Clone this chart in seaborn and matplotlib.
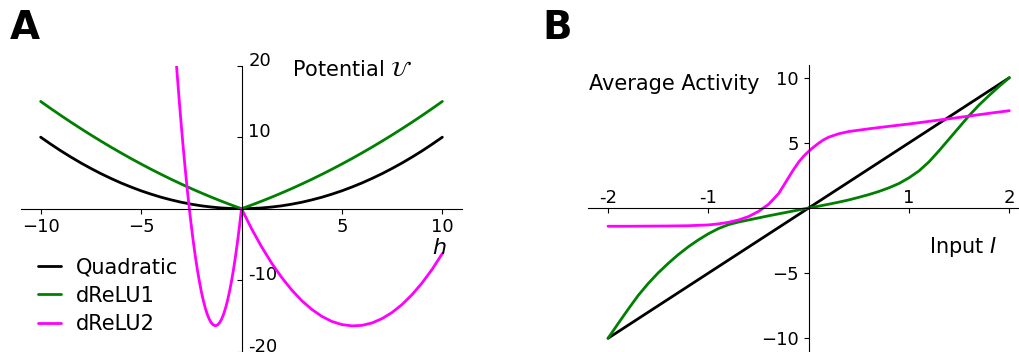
import matplotlib
matplotlib.use("Agg")
import matplotlib.pyplot as plt
import seaborn as sns
import pandas as pd

# ---- panel A : potentials U(h) ----
h_grid = [-10, -9.5, -9, -8.5, -8, -7.5, -7, -6.5, -6, -5.5, -5, -4.5, -4, -3.5, -3, -2.5, -2, -1.5, -1, -0.5,
          0, 0.5, 1, 1.5, 2, 2.5, 3, 3.5, 4, 4.5, 5, 5.5, 6, 6.5, 7, 7.5, 8, 8.5, 9, 9.5, 10]
quadratic = [10, 9.03, 8.1, 7.23, 6.4, 5.63, 4.9, 4.23, 3.6, 3.03, 2.5, 2.03, 1.6, 1.23, 0.9, 0.63, 0.4, 0.23, 0.1, 0.03,
             0, 0.03, 0.1, 0.23, 0.4, 0.63, 0.9, 1.23, 1.6, 2.03, 2.5, 3.03, 3.6, 4.23, 4.9, 5.63, 6.4, 7.23, 8.1, 9.03, 10]
drelu1 = [15, 14.01, 13.05, 12.11, 11.2, 10.31, 9.45, 8.61, 7.8, 7.01, 6.25, 5.51, 4.8, 4.11, 3.45, 2.81, 2.2, 1.61, 1.05, 0.51,
          0, 0.51, 1.05, 1.61, 2.2, 2.81, 3.45, 4.11, 4.8, 5.51, 6.25, 7.01, 7.8, 8.61, 9.45, 10.31, 11.2, 12.11, 13.05, 14.01, 15]

drelu2_h = [-3.25, -3.2, -3.1, -3.0, -2.9, -2.8, -2.7, -2.6, -2.5, -2.4, -2.3, -2.2, -2.1, -2.0,
            -1.9, -1.8, -1.7, -1.6, -1.5, -1.4, -1.3, -1.2, -1.1, -1.0, -0.9, -0.8, -0.7, -0.6,
            -0.5, -0.4, -0.3, -0.2, -0.1, 0.0,
            0.5, 1.0, 1.5, 2.0, 2.5, 3.0, 3.5, 4.0, 4.5, 5.0, 5.5, 6.0, 6.5, 7.0, 7.5, 8.0, 8.5,
            9.0, 9.5, 10.0]
drelu2_u = [20.56, 18.69, 15.10, 11.70, 8.50, 5.49, 2.67, 0.05, -2.37, -4.61, -6.65, -8.49, -10.14, -11.60,
            -12.86, -13.93, -14.81, -15.49, -15.97, -16.27, -16.37, -16.27, -15.98, -15.50, -14.82, -13.95, -12.89, -11.63,
            -10.17, -8.53, -6.69, -4.65, -2.42, 0.0,
            -2.80, -5.33, -7.61, -9.62, -11.37, -12.86, -14.09, -15.06, -15.77, -16.21, -16.39, -16.32, -15.98, -15.37, -14.51, -13.39, -12.00,
            -10.35, -8.45, -6.27]

# ---- panel B : average activity vs input ----
lin_I = [-2, 2]
lin_act = [-10, 10]

green_I = [-2.0, -1.9, -1.8, -1.7, -1.6, -1.5, -1.4, -1.3, -1.2, -1.1, -1.0, -0.9, -0.8, -0.7, -0.6, -0.5,
           -0.4, -0.3, -0.2, -0.1, 0.0, 0.1, 0.2, 0.3, 0.4, 0.5, 0.6, 0.7, 0.8, 0.9, 1.0, 1.1, 1.2, 1.3,
           1.4, 1.5, 1.6, 1.7, 1.8, 1.9, 2.0]
green_act = [-10.0, -8.88, -7.78, -6.72, -5.80, -4.98, -4.25, -3.58, -2.98, -2.45, -1.98, -1.58, -1.28, -1.08, -0.92, -0.76,
             -0.60, -0.45, -0.30, -0.15, 0.0, 0.14, 0.29, 0.45, 0.62, 0.82, 1.03, 1.27, 1.55, 1.88, 2.32, 2.85, 3.55, 4.40,
             5.30, 6.20, 7.10, 7.92, 8.65, 9.35, 10.0]

mag_I = [-2.0, -1.8, -1.6, -1.4, -1.2, -1.0, -0.9, -0.8, -0.7, -0.6, -0.5, -0.4, -0.3, -0.25, -0.2, -0.15,
         -0.1, -0.05, 0.0, 0.05, 0.1, 0.15, 0.2, 0.3, 0.4, 0.6, 0.8, 1.0, 1.2, 1.4, 1.6, 1.8, 2.0]
mag_act = [-1.40, -1.40, -1.39, -1.38, -1.36, -1.30, -1.22, -1.10, -0.92, -0.66, -0.26, 0.28, 1.10, 1.72, 2.35, 2.96,
           3.52, 3.98, 4.35, 4.68, 4.98, 5.24, 5.44, 5.70, 5.87, 6.08, 6.27, 6.45, 6.65, 6.85, 7.06, 7.27, 7.47]

sns.set_style("ticks")
plt.rcParams["font.family"] = ["DejaVu Sans"]
plt.rcParams["mathtext.fontset"] = "dejavusans"
plt.rcParams["text.color"] = "black"
plt.rcParams["xtick.color"] = "black"
plt.rcParams["ytick.color"] = "black"
plt.rcParams["axes.edgecolor"] = "black"

fig = plt.figure(figsize=(10.19, 3.52), dpi=100)
axA = fig.add_axes([0.0202, 0.0009, 0.4336, 0.8125])
axB = fig.add_axes([0.5770, 0.0020, 0.4332, 0.8142])

lw = 2.0
dfA = pd.DataFrame({"h": h_grid, "Quadratic": quadratic, "dReLU1": drelu1})
sns.lineplot(data=dfA, x="h", y="Quadratic", color="black", lw=lw, label="Quadratic", ax=axA)
sns.lineplot(data=dfA, x="h", y="dReLU1", color="green", lw=lw, label="dReLU1", ax=axA)
sns.lineplot(x=drelu2_h, y=drelu2_u, color="#ff00ff", lw=lw, label="dReLU2", ax=axA)

axA.set_xlim(-11, 11)
axA.set_ylim(-20, 20)
for s in ["top", "right"]:
    axA.spines[s].set_visible(False)
axA.spines["left"].set_position(("data", 0))
axA.spines["bottom"].set_position(("data", 0))
axA.set_xticks([-10, -5, 5, 10])
axA.set_xticklabels(["\u221210", "\u22125", "5", "10"], fontsize=13)
axA.set_yticks([20, 10, -10, -20])
axA.set_yticklabels(["20", "10", "-10", "-20"], fontsize=13)
axA.tick_params(axis="y", pad=-8.5)
for t in axA.get_yticklabels():
    t.set_horizontalalignment("left")
    t.set_verticalalignment("baseline")
axA.set_xlabel("")
axA.set_ylabel("")
axA.text(2.5, 18.6, r"Potential $\mathcal{U}$", fontsize=15, va="baseline")
axA.text(9.84, -6.3, r"$h$", fontsize=16, ha="center", va="baseline")
axA.legend(loc="lower left", bbox_to_anchor=(37.7 / 1019, 1 - 334 / 352),
           bbox_transform=fig.transFigure, frameon=False, fontsize=15,
           handlelength=1.1, handletextpad=0.75, labelspacing=0.4,
           borderpad=0, borderaxespad=0)

sns.lineplot(x=lin_I, y=lin_act, color="black", lw=lw, ax=axB)
sns.lineplot(x=green_I, y=green_act, color="green", lw=lw, ax=axB)
sns.lineplot(x=mag_I, y=mag_act, color="#ff00ff", lw=lw, ax=axB)

axB.set_xlim(-2.2, 2.2)
axB.set_ylim(-11, 11)
for s in ["top", "right"]:
    axB.spines[s].set_visible(False)
axB.spines["left"].set_position(("data", 0))
axB.spines["bottom"].set_position(("data", 0))
axB.set_xticks([-2, -1, 1, 2])
axB.set_xticklabels(["-2", "-1", "1", "2"], fontsize=13)
axB.set_yticks([10, 5, -5, -10])
axB.set_yticklabels(["10", "5", "\u22125", "\u221210"], fontsize=13)
axB.tick_params(axis="x", pad=-7.3)
for t in axB.get_xticklabels():
    t.set_verticalalignment("baseline")
axB.text(-2.19, 9.06, "Average Activity", fontsize=15, va="baseline")
axB.text(1.2, -3.48, r"Input $I$", fontsize=15, va="baseline")

fig.text(10 / 1019, 1 - 39.3 / 352, "A", fontsize=28, fontweight="bold", va="baseline")
fig.text(542.7 / 1019, 1 - 39.3 / 352, "B", fontsize=28, fontweight="bold", va="baseline")

fig.savefig("out.png", dpi=100)
